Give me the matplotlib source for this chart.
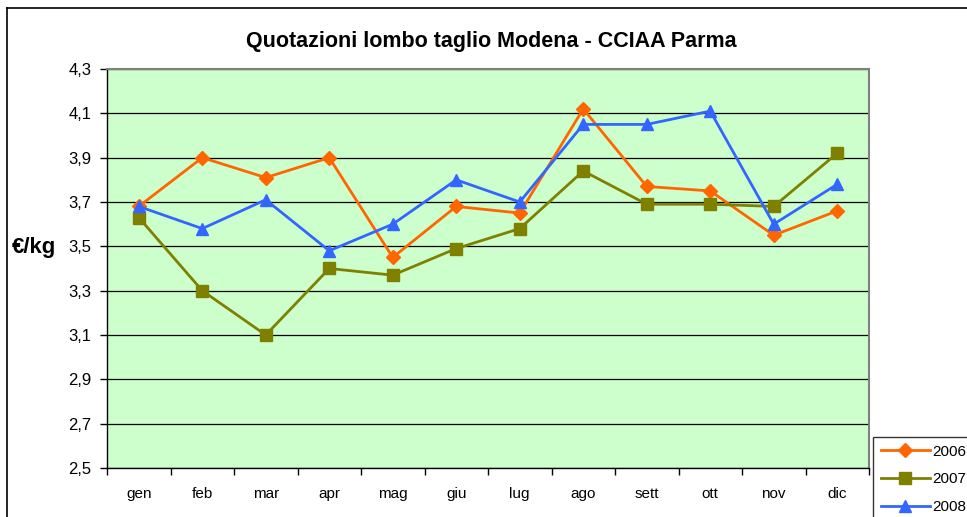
import matplotlib
matplotlib.use("Agg")
import matplotlib.pyplot as plt
from matplotlib.lines import Line2D
import numpy as np

plt.rcParams['font.family'] = ['Liberation Sans', 'DejaVu Sans']

months = ["gen", "feb", "mar", "apr", "mag", "giu", "lug", "ago", "sett", "ott", "nov", "dic"]
y2006 = [3.68, 3.90, 3.81, 3.90, 3.45, 3.68, 3.65, 4.12, 3.77, 3.75, 3.55, 3.66]
y2007 = [3.63, 3.30, 3.10, 3.40, 3.37, 3.49, 3.58, 3.84, 3.69, 3.69, 3.68, 3.92]
y2008 = [3.68, 3.58, 3.71, 3.48, 3.60, 3.80, 3.70, 4.05, 4.05, 4.11, 3.60, 3.78]
yticks = [2.5, 2.7, 2.9, 3.1, 3.3, 3.5, 3.7, 3.9, 4.1, 4.3]
series_labels = ["2006", "2007", "2008"]

W, H = 967, 517
fig = plt.figure(figsize=(W / 100, H / 100), dpi=100)

# chart border (left and top visible)
fig.add_artist(Line2D([7 / W, 7 / W], [0, 1 - 8 / H], color="black", lw=1.2, transform=fig.transFigure))
fig.add_artist(Line2D([7 / W, 1], [1 - 8 / H, 1 - 8 / H], color="black", lw=1.2, transform=fig.transFigure))

left, right, top, bottom = 107, 869, 69, 468
ax = fig.add_axes([left / W, 1 - bottom / H, (right - left) / W, (bottom - top) / H])
ax.set_facecolor("#CCFFCC")

x = np.arange(len(months))
l1, = ax.plot(x, y2006, color="#FF6600", lw=2, marker="D", ms=7, mec="#FF6600", label=series_labels[0], zorder=3)
l2, = ax.plot(x, y2007, color="#808000", lw=2, marker="s", ms=8, mec="#808000", label=series_labels[1], zorder=3)
l3, = ax.plot(x, y2008, color="#3366FF", lw=2, marker="^", ms=9, mec="#3366FF", label=series_labels[2], zorder=3)

ax.set_xlim(-0.5, len(months) - 0.5)
ax.set_ylim(2.5, 4.3)
ax.set_yticks(yticks)
ax.set_yticklabels([f"{v:.1f}".replace(".", ",") for v in yticks], fontsize=12)
ax.set_xticks(x)
ax.set_xticklabels(months, fontsize=11)
ax.set_xticks(np.arange(-0.5, len(months) + 0.5, 1), minor=True)
ax.tick_params(axis="x", which="major", length=0, pad=14)
ax.tick_params(axis="x", which="minor", length=5, width=1, color="black", direction="out")
ax.tick_params(axis="y", length=5, width=1, direction="out", pad=6)

ax.grid(axis="y", color="black", lw=0.9, zorder=1)
ax.set_axisbelow(True)
for s in ["top", "right"]:
    ax.spines[s].set_color("#808080")
    ax.spines[s].set_linewidth(1.5)
ax.spines["left"].set_color("black")
ax.spines["bottom"].set_color("black")
ax.spines["left"].set_linewidth(1)
ax.spines["bottom"].set_linewidth(1)

fig.text(491 / W, 1 - 42 / H, "Quotazioni lombo taglio Modena - CCIAA Parma",
         ha="center", va="center", fontsize=15.5, fontweight="bold")
fig.text(12 / W, 1 - 248 / H, "€/kg", ha="left", va="center", fontsize=16, fontweight="bold")

leg = fig.legend(handles=[l1, l2, l3], loc="upper left", bbox_to_anchor=(873 / W, 1 - 437 / H),
                 frameon=True, fancybox=False, fontsize=11, handlelength=3.2, handletextpad=0.2,
                 borderpad=0.5, labelspacing=0.9, borderaxespad=0)
leg.get_frame().set_edgecolor("black")
leg.get_frame().set_linewidth(1)

fig.savefig("out.png", dpi=100)
